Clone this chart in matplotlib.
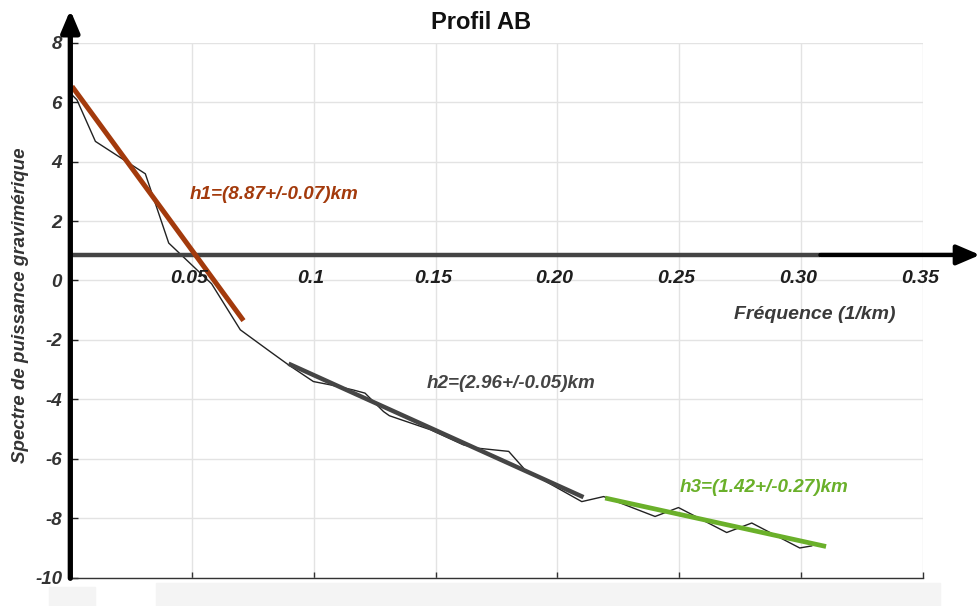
import matplotlib
matplotlib.use("Agg")
import matplotlib.pyplot as plt
from matplotlib.patches import Rectangle

plt.rcParams['font.family'] = ['Liberation Sans', 'DejaVu Sans']

# Radially averaged power spectrum (ln P) vs. frequency
freq = [0.0, 0.0027, 0.0103, 0.0308, 0.0404, 0.058, 0.0698, 0.082, 0.0896,
        0.0998, 0.1067, 0.116, 0.121, 0.1286, 0.131, 0.1478, 0.1614, 0.167,
        0.180, 0.1867, 0.210, 0.219, 0.2401, 0.2497, 0.2695, 0.2798, 0.2995,
        0.3044]
spectrum = [6.3, 6.08, 4.68, 3.59, 1.26, -0.11, -1.66, -2.39, -2.84,
            -3.40, -3.51, -3.68, -3.79, -4.41, -4.55, -5.02, -5.53, -5.64,
            -5.75, -6.37, -7.44, -7.27, -7.94, -7.64, -8.48, -8.16, -9.00,
            -8.93]

# Linear fits of the three depth segments (x range, y at ends)
fit_h1_x = [0.0007, 0.0711]
fit_h1_y = [6.53, -1.35]
fit_h2_x = [0.0896, 0.2107]
fit_h2_y = [-2.80, -7.29]
fit_h3_x = [0.2196, 0.3103]
fit_h3_y = [-7.32, -8.95]

label_h1 = "h1=(8.87+/-0.07)km"
label_h2 = "h2=(2.96+/-0.05)km"
label_h3 = "h3=(1.42+/-0.27)km"

freq_ticks = [0.05, 0.1, 0.15, 0.20, 0.25, 0.30, 0.35]
freq_tick_labels = ["0.05", "0.1", "0.15", "0.20", "0.25", "0.30", "0.35"]
y_ticks = [8, 6, 4, 2, 0, -2, -4, -6, -8, -10]
freq_axis_level = 0.86

fig = plt.figure(figsize=(9.78, 6.06), dpi=100)
ax = fig.add_axes([0.0719, 0.0467, 0.8716, 0.8828])
ax.set_xlim(0, 0.35)
ax.set_ylim(-10, 8)

# grid
ax.set_xticks(freq_ticks)
ax.set_yticks(y_ticks)
ax.grid(True, color='#e3e3e3', lw=1.0)
ax.set_axisbelow(True)

for s in ['top', 'right', 'left']:
    ax.spines[s].set_visible(False)
ax.spines['bottom'].set_color('#333333')
ax.spines['bottom'].set_linewidth(1.0)

ax.tick_params(axis='x', direction='in', length=4.5, width=1.0,
               color='#333333', labelbottom=False)
ax.tick_params(axis='y', direction='in', length=6, width=1.0,
               color='#222222', pad=6)
ax.set_yticklabels([str(v) for v in y_ticks], fontsize=13.5,
                   fontweight='bold', fontstyle='italic', color='#333333')

# thick vertical axis with arrow
ax.annotate('', xy=(0, 9.1), xytext=(0, -10.02),
            arrowprops=dict(arrowstyle='-|>,head_length=1.3,head_width=0.55',
                            lw=3.8, color='black', shrinkA=0, shrinkB=0),
            annotation_clip=False, zorder=6)

# frequency axis drawn at the spectrum level line
ax.plot([0, 0.308], [freq_axis_level, freq_axis_level], color='#444444',
        lw=3.2, solid_capstyle='butt', zorder=3, clip_on=False)
ax.annotate('', xy=(0.3735, freq_axis_level), xytext=(0.308, freq_axis_level),
            arrowprops=dict(arrowstyle='-|>,head_length=1.4,head_width=0.6',
                            lw=3.2, color='black', shrinkA=0, shrinkB=0),
            annotation_clip=False, zorder=3)
for xt, lab in zip(freq_ticks, freq_tick_labels):
    ax.text(xt - 0.0012, 0.08, lab, ha='center', va='center', fontsize=14,
            fontweight='bold', fontstyle='italic', color='#1e1e1e', zorder=5)
ax.text(0.3055, -1.15, "Fréquence (1/km)", ha='center', va='center',
        fontsize=14, fontweight='bold', fontstyle='italic', color='#3a3a3a')

# data and fits
ax.plot(freq, spectrum, color='#222222', lw=1.0, zorder=2)
ax.plot(fit_h1_x, fit_h1_y, color='#a33a0c', lw=3.6, zorder=4,
        solid_capstyle='butt')
ax.plot(fit_h2_x, fit_h2_y, color='#454545', lw=3.2, zorder=4,
        solid_capstyle='butt')
ax.plot(fit_h3_x, fit_h3_y, color='#6ab02a', lw=3.4, zorder=4,
        solid_capstyle='butt')

ax.text(0.0492, 2.88, label_h1, ha='left', va='center', fontsize=13.6,
        fontweight='bold', fontstyle='italic', color='#a33a0c')
ax.text(0.1464, -3.45, label_h2, ha='left', va='center', fontsize=13.6,
        fontweight='bold', fontstyle='italic', color='#444444')
ax.text(0.2504, -6.95, label_h3, ha='left', va='center', fontsize=13.6,
        fontweight='bold', fontstyle='italic', color='#6ab02a')

ax.set_ylabel("Spectre de puissance gravimérique", fontsize=13.5,
              fontweight='bold', fontstyle='italic', color='#333333')
ax.yaxis.set_label_coords(-0.049, 0.51)

fig.text(0.492, 0.963, "Profil AB", ha='center', va='center', fontsize=17,
         fontweight='bold', color='#111111')

# light footer bands
fig.patches.append(Rectangle((49 / 978, 0), 46 / 978, 19 / 606,
                             transform=fig.transFigure, color='#f4f4f4',
                             zorder=0))
fig.patches.append(Rectangle((156 / 978, 0), 784 / 978, 23 / 606,
                             transform=fig.transFigure, color='#f4f4f4',
                             zorder=0))

fig.savefig("out.png", dpi=100)
